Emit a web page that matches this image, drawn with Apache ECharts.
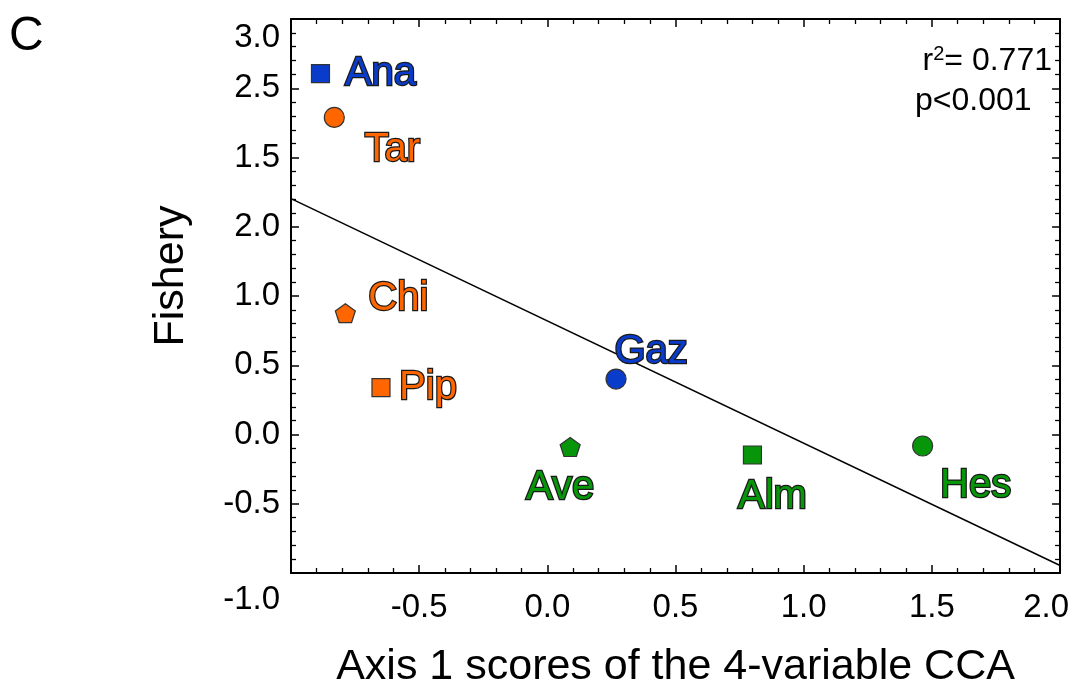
<!DOCTYPE html>
<html>
<head>
<meta charset="utf-8">
<script src="https://cdn.jsdelivr.net/npm/echarts@6/dist/echarts.min.js"></script>
<style>
  html, body { margin: 0; padding: 0; background: #fff; }
  #chart { width: 1072px; height: 696px; }
</style>
</head>
<body>
<div id="chart"></div>
<script>
// Site codes and their CCA axis-1 scores vs fishery values
const sites   = ['Ana', 'Tar', 'Chi', 'Pip', 'Gaz', 'Ave', 'Alm', 'Hes'];
const axis1   = [-0.885, -0.831, -0.788, -0.649, 0.268, 0.089, 0.800, 1.464];
const fishery = [2.606, 2.289, 0.876, 0.339, 0.400, -0.090, -0.148, -0.083];
const groups  = ['blue', 'orange', 'orange', 'orange', 'blue', 'green', 'green', 'green'];
const shapes  = ['square', 'circle', 'pentagon', 'square', 'circle', 'pentagon', 'square', 'circle'];

// Fitted regression line, endpoints at the x-axis limits
const fitX = [-1.0, 2.0];
const fitY = [1.703, -0.946];

// Y tick labels as printed on the axis (values -1.0 ... 3.0)
const yTickLabels = ['-1.0', '-0.5', '0.0', '0.5', '1.0', '2.0', '1.5', '2.5', '3.0'];
const xTickLabels = ['', '-0.5', '0.0', '0.5', '1.0', '1.5', '2.0'];

const stats = { r2: '0.771', p: 'p<0.001' };

const palette = { blue: '#0a3ccc', orange: '#ff6600', green: '#07960a' };
const symbols = {
  square: 'rect',
  circle: 'circle',
  pentagon: 'path://M0,-10 L9.51,-3.09 L5.88,8.09 L-5.88,8.09 L-9.51,-3.09 Z'
};
const symbolSizes = { square: 18, circle: 20, pentagon: [20, 19] };
const labelOffsets = {
  Ana: [60, 0], Tar: [58, 32], Chi: [53, -14], Pip: [47, 0],
  Gaz: [35, -27], Ave: [-10, 41], Alm: [20, 42], Hes: [53, 40]
};

const FONT = '"Liberation Sans", Arial, sans-serif';

const points = sites.map((name, i) => {
  const c = palette[groups[i]];
  return {
    name: name,
    value: [axis1[i], fishery[i]],
    symbol: symbols[shapes[i]],
    symbolSize: symbolSizes[shapes[i]],
    itemStyle: { color: c, opacity: 1, borderColor: '#333', borderWidth: 1.2 },
    label: {
      show: true,
      formatter: name,
      position: 'inside',
      offset: labelOffsets[name],
      color: c,
      fontFamily: FONT,
      fontSize: 40,
      textBorderColor: '#1a1a1a',
      textBorderWidth: 2.5
    }
  };
});

const yIndex = v => Math.round((v + 1) / 0.5);
const xIndex = v => Math.round((v + 1) / 0.5);

const tickLine = { color: '#000', width: 1.5 };
const minorLine = { color: '#000', width: 1.3 };

const chart = echarts.init(document.getElementById('chart'), null, { renderer: 'canvas' });
chart.setOption({
  backgroundColor: '#fff',
  animation: false,
  graphic: [
    { type: 'text', left: 9, top: 13, style: { text: 'C', font: '48px ' + FONT, fill: '#000' } },
    {
      type: 'text', right: 20, top: 44,
      style: {
        text: '{t|r}{s|2}{t|= ' + stats.r2 + '}',
        rich: {
          t: { fontFamily: FONT, fontSize: 32, color: '#000' },
          s: { fontFamily: FONT, fontSize: 20, color: '#000', verticalAlign: 'top', padding: [0, 0, 14, 0] }
        }
      }
    },
    { type: 'text', left: 915, top: 85, style: { text: stats.p, font: '32px ' + FONT, fill: '#000' } }
  ],
  grid: { left: 291, right: 8, top: 19, bottom: 123, containLabel: false },
  xAxis: [
    {
      type: 'value', min: -1, max: 2, interval: 0.5, position: 'bottom',
      name: 'Axis 1 scores of the 4-variable CCA',
      nameLocation: 'middle', nameGap: 73,
      nameTextStyle: { fontFamily: FONT, fontSize: 43, color: '#000' },
      axisLine: { show: true, onZero: false, lineStyle: { color: '#000', width: 2 } },
      axisTick: { show: true, inside: true, length: 8, lineStyle: tickLine },
      minorTick: { show: true, splitNumber: 5, length: 5, lineStyle: minorLine },
      splitLine: { show: false },
      axisLabel: {
        show: true, margin: 18, fontFamily: FONT, fontSize: 33, color: '#000',
        formatter: v => {
          const t = xTickLabels[xIndex(v)];
          return xIndex(v) === xTickLabels.length - 1 ? '{e|' + t + '}' : t;
        },
        rich: { e: { fontFamily: FONT, fontSize: 33, color: '#000', padding: [0, 28, 0, 0] } }
      }
    },
    {
      type: 'value', min: -1, max: 2, interval: 0.5, position: 'top',
      axisLine: { show: true, onZero: false, lineStyle: { color: '#000', width: 2 } },
      axisTick: { show: true, inside: true, length: 8, lineStyle: tickLine },
      minorTick: { show: true, splitNumber: 5, length: 5, lineStyle: minorLine },
      splitLine: { show: false },
      axisLabel: { show: false }
    }
  ],
  yAxis: [
    {
      type: 'value', min: -1, max: 3, interval: 0.5, position: 'left',
      name: 'Fishery', nameLocation: 'middle', nameGap: 98, nameRotate: 90,
      nameTextStyle: { fontFamily: FONT, fontSize: 43, color: '#000', padding: [0, 0, 0, 40] },
      axisLine: { show: true, onZero: false, lineStyle: { color: '#000', width: 2 } },
      axisTick: { show: true, inside: true, length: 8, lineStyle: tickLine },
      minorTick: { show: true, splitNumber: 5, length: 5, lineStyle: minorLine },
      splitLine: { show: false },
      axisLabel: {
        show: true, margin: 11, fontFamily: FONT, fontSize: 33, color: '#000',
        showMinLabel: true, showMaxLabel: true,
        formatter: v => {
          const i = yIndex(v);
          const t = yTickLabels[i];
          if (i === yTickLabels.length - 1) return '{top|' + t + '}';
          if (i === 0) return '{bot|' + t + '}';
          return t;
        },
        rich: {
          top: { fontFamily: FONT, fontSize: 33, color: '#000', padding: [38, 0, 0, 0] },
          bot: { fontFamily: FONT, fontSize: 33, color: '#000', padding: [54, 0, 0, 0] }
        }
      }
    },
    {
      type: 'value', min: -1, max: 3, interval: 0.5, position: 'right',
      axisLine: { show: true, onZero: false, lineStyle: { color: '#000', width: 2 } },
      axisTick: { show: true, inside: true, length: 8, lineStyle: tickLine },
      minorTick: { show: true, splitNumber: 5, length: 5, lineStyle: minorLine },
      splitLine: { show: false },
      axisLabel: { show: false }
    }
  ],
  series: [
    {
      type: 'line',
      data: fitX.map((x, i) => [x, fitY[i]]),
      symbol: 'none',
      lineStyle: { color: '#000', width: 1.5 },
      z: 1,
      silent: true
    },
    {
      type: 'scatter',
      data: points,
      z: 3
    }
  ]
});
</script>
</body>
</html>
